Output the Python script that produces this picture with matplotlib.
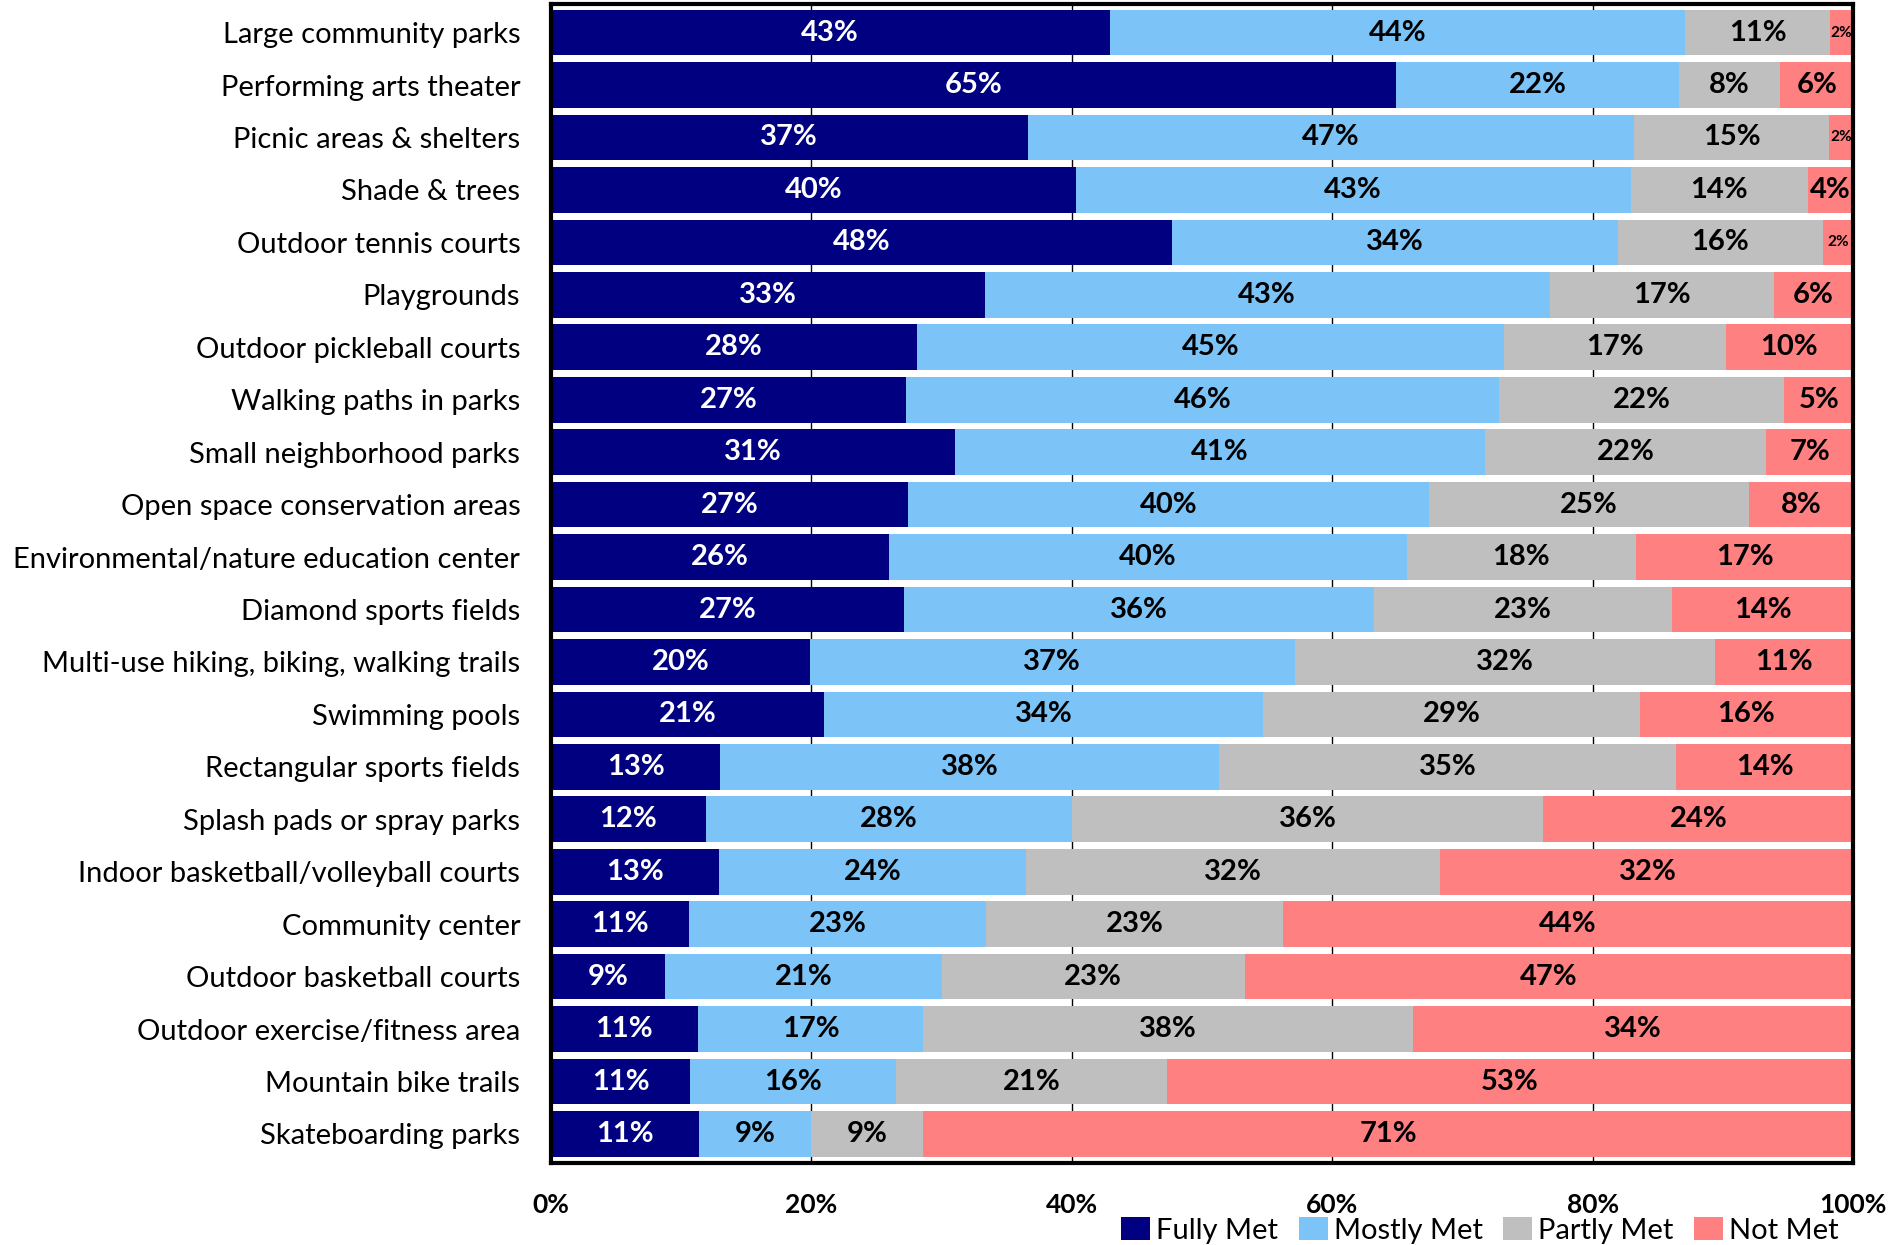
import numpy as np
import matplotlib.pyplot as plt
from matplotlib.patches import Patch

# --- Data (percent of households) ---
categories = [
    "Large community parks", "Performing arts theater", "Picnic areas & shelters",
    "Shade & trees", "Outdoor tennis courts", "Playgrounds",
    "Outdoor pickleball courts", "Walking paths in parks", "Small neighborhood parks",
    "Open space conservation areas", "Environmental/nature education center",
    "Diamond sports fields", "Multi-use hiking, biking, walking trails",
    "Swimming pools", "Rectangular sports fields", "Splash pads or spray parks",
    "Indoor basketball/volleyball courts", "Community center",
    "Outdoor basketball courts", "Outdoor exercise/fitness area",
    "Mountain bike trails", "Skateboarding parks",
]
fully_met = [42.9, 64.9, 36.6, 40.3, 47.7, 33.3, 28.1, 27.3, 31.0, 27.4, 26.0,
             27.1, 19.9, 21.0, 13.0, 11.9, 12.9, 10.6, 8.8, 11.3, 10.7, 11.4]
mostly_met = [44.2, 21.7, 46.6, 42.6, 34.2, 43.4, 45.1, 45.5, 40.7, 40.0, 39.7,
              36.1, 37.2, 33.7, 38.3, 28.1, 23.6, 22.8, 21.2, 17.3, 15.8, 8.6]
partly_met = [11.1, 7.8, 14.9, 13.6, 15.8, 17.2, 17.0, 21.9, 21.6, 24.6, 17.6,
              22.9, 32.3, 28.9, 35.1, 36.2, 31.8, 22.8, 23.3, 37.6, 20.8, 8.6]
not_met = [1.8, 5.6, 1.9, 3.5, 2.3, 6.0, 9.8, 5.3, 6.7, 8.0, 16.7,
           13.9, 10.6, 16.4, 13.6, 23.8, 31.8, 43.8, 46.7, 33.8, 52.6, 71.4]

series_names = ["Fully Met", "Mostly Met", "Partly Met", "Not Met"]
colors = ["#000080", "#7CC3F8", "#BFBFBF", "#FF8080"]
text_colors = ["white", "black", "black", "black"]

label_font = ["Lato", "DejaVu Sans"]

fig = plt.figure(figsize=(18.93, 12.45), dpi=100)
ax = fig.add_axes([0.291, 0.066, 0.688, 0.931])

y = np.arange(len(categories))
left = np.zeros(len(categories))
for vals, name, col, tcol in zip([fully_met, mostly_met, partly_met, not_met],
                                 series_names, colors, text_colors):
    vals = np.array(vals)
    ax.barh(y, vals, left=left, height=0.87, color=col, label=name, zorder=2)
    # value labels, smaller for the thin slivers
    for yi, (l, v) in enumerate(zip(left, vals)):
        size = 21 if v >= 3 else 11
        ax.text(l + v / 2, yi, f"{v:.0f}%", ha="center", va="center",
                color=tcol, fontsize=size, fontweight="bold",
                family=label_font, zorder=3)
    left += vals

ax.set_xlim(0, 100)
ax.set_ylim(len(categories) - 0.5 + 0.05, -0.5 - 0.05)
ax.set_yticks(y)
ax.set_yticklabels(categories, fontsize=21, family=label_font)
ax.tick_params(axis="y", length=0, pad=22)
ax.set_xticks([0, 20, 40, 60, 80, 100])
ax.set_xticklabels([f"{t}%" for t in range(0, 101, 20)], fontsize=19,
                   fontweight="bold", family=label_font)
ax.tick_params(axis="x", length=0, pad=22)
ax.grid(axis="x", color="black", linewidth=1, zorder=0)

for sp in ax.spines.values():
    sp.set_linewidth(3)
    sp.set_color("black")

handles = [Patch(facecolor=c, label=n) for c, n in zip(colors, series_names)]
fig.legend(handles=handles, loc="lower right", bbox_to_anchor=(0.985, -0.02),
           ncol=4, frameon=False, prop={"family": label_font, "size": 21},
           handlelength=1.0, handleheight=0.8, handletextpad=0.2,
           columnspacing=0.7)

fig.savefig("out.png", dpi=100)
